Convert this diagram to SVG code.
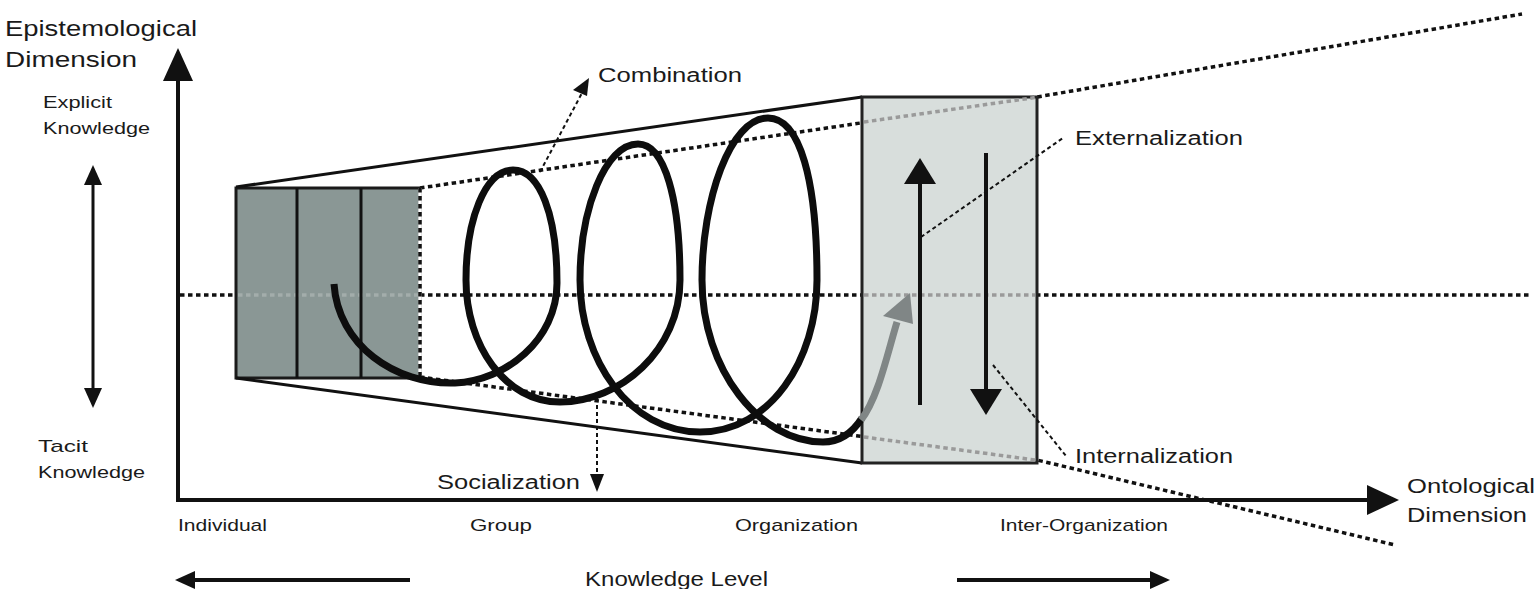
<svg xmlns="http://www.w3.org/2000/svg" width="1536" height="589" viewBox="0 0 1536 589">
<style>
text{font-family:"Liberation Sans",Arial,sans-serif;fill:#1a1a1a}
.lg{font-size:22px}
.md{font-size:20px}
.sm{font-size:17px}
.dot{fill:none;stroke:#111;stroke-width:3.5;stroke-dasharray:4.5 3.5}
.dotg{fill:none;stroke:#9a9a9a;stroke-width:3.5;stroke-dasharray:4.5 3.5}
.dotr{fill:none;stroke:#a3adab;stroke-width:3.5;stroke-dasharray:4.5 3.5}
.lead{fill:none;stroke:#111;stroke-width:2;stroke-dasharray:4 3}
.ax{fill:none;stroke:#111;stroke-width:4}
.cone{fill:none;stroke:#111;stroke-width:3}
.head{fill:#111}
.spiral{fill:none;stroke:#0d0d0d;stroke-width:7;stroke-linecap:butt}
</style>

<g id="guides">
<line class="dot" x1="180" y1="295" x2="1530" y2="295"/>
<polyline class="dot" points="420,188 1037,97 1522,14"/>
<polyline class="dot" points="420,377 1037,460 1395,545"/>
</g>

<g id="individual-block">
<rect x="236" y="188" width="184" height="190" fill="#8a9795" stroke="#1a1a1a" stroke-width="3"/>
<line x1="420" y1="188" x2="420" y2="378" stroke="#fff" stroke-width="3.5"/>
<line class="dot" x1="420" y1="188" x2="420" y2="378"/>
<line class="dotr" x1="238" y1="295" x2="418" y2="295"/>
<line x1="297" y1="188" x2="297" y2="378" stroke="#111" stroke-width="3"/>
<line x1="361" y1="188" x2="361" y2="378" stroke="#111" stroke-width="3"/>
</g>

<g id="cone">
<line class="cone" x1="236" y1="187" x2="862" y2="97"/>
<line class="cone" x1="236" y1="378" x2="862" y2="463"/>
</g>

<g id="inter-organization-block">
<rect x="862" y="97" width="175" height="366" fill="#d8dedc" stroke="#222" stroke-width="3"/>
<line class="dotg" x1="864" y1="295" x2="1035" y2="295"/>
<line class="dotg" x1="864" y1="122" x2="1035" y2="97.5"/>
<line class="dotg" x1="864" y1="437" x2="1035" y2="460"/>
</g>

<g id="axes">
<line class="ax" x1="178" y1="502" x2="178" y2="78"/>
<polygon class="head" points="178,48 163,81 193,81"/>
<line class="ax" x1="176" y1="500" x2="1370" y2="500"/>
<polygon class="head" points="1399,500 1367,485 1367,515"/>
<line x1="93" y1="180" x2="93" y2="393" stroke="#111" stroke-width="3"/>
<polygon class="head" points="93,165 84,185 102,185"/>
<polygon class="head" points="93,408 84,388 102,388"/>
<line x1="410" y1="580" x2="192" y2="580" stroke="#111" stroke-width="4"/>
<polygon class="head" points="175,580 195,571 195,589"/>
<line x1="957" y1="580" x2="1152" y2="580" stroke="#111" stroke-width="4"/>
<polygon class="head" points="1170,580 1150,571 1150,589"/>
</g>

<g id="conversion-arrows">
<line x1="920" y1="405" x2="920" y2="180" stroke="#111" stroke-width="4"/>
<polygon class="head" points="920,158 904,184 936,184"/>
<line x1="986" y1="153" x2="986" y2="393" stroke="#111" stroke-width="4"/>
<polygon class="head" points="986,415 970,389 1002,389"/>
</g>

<g id="spiral">
<path class="spiral" d="M334,284 C338,345 395,385 455,383 C505,381 557,340 557,283 C557,215 540,170 513,170 C485,170 466,220 466,280 C466,345 505,402 560,402 C620,402 680,350 680,280 C680,200 665,144 638,144 C605,144 580,210 580,280 C580,360 630,432 700,432 C770,432 817,360 817,280 C817,180 800,118 768,118 C730,118 702,200 702,280 C702,370 760,442 823,442 C840,442 853,432 862,418"/>
<path d="M861,420 C878,398 887,355 897,322" fill="none" stroke="#808686" stroke-width="7"/>
<polygon points="910,293 883,316 913,324" fill="#808686"/>
</g>

<g id="connectors">
<line class="lead" x1="540" y1="172" x2="582" y2="93"/>
<polygon class="head" points="589,78 573,90 587,96"/>
<line class="lead" x1="597" y1="398" x2="597" y2="475"/>
<polygon class="head" points="597,492 590,474 604,474"/>
<line class="lead" x1="921" y1="237" x2="1063" y2="138"/>
<line class="lead" x1="993" y1="365" x2="1066" y2="456"/>
</g>

<g id="labels">
<text class="lg" x="5" y="36" textLength="192" lengthAdjust="spacingAndGlyphs">Epistemological</text>
<text class="lg" x="5" y="67" textLength="132" lengthAdjust="spacingAndGlyphs">Dimension</text>
<text class="sm" x="43" y="108" textLength="69" lengthAdjust="spacingAndGlyphs">Explicit</text>
<text class="sm" x="43" y="134" textLength="107" lengthAdjust="spacingAndGlyphs">Knowledge</text>
<text class="sm" x="38" y="452" textLength="50" lengthAdjust="spacingAndGlyphs">Tacit</text>
<text class="sm" x="38" y="478" textLength="107" lengthAdjust="spacingAndGlyphs">Knowledge</text>
<text class="sm" x="178" y="531" textLength="89" lengthAdjust="spacingAndGlyphs">Individual</text>
<text class="sm" x="470" y="531" textLength="62" lengthAdjust="spacingAndGlyphs">Group</text>
<text class="sm" x="735" y="531" textLength="123" lengthAdjust="spacingAndGlyphs">Organization</text>
<text class="sm" x="1000" y="531" textLength="168" lengthAdjust="spacingAndGlyphs">Inter-Organization</text>
<text class="md" x="585" y="586" textLength="183" lengthAdjust="spacingAndGlyphs">Knowledge Level</text>
<text class="md" x="437" y="489" textLength="143" lengthAdjust="spacingAndGlyphs">Socialization</text>
<text class="md" x="598" y="82" textLength="144" lengthAdjust="spacingAndGlyphs">Combination</text>
<text class="md" x="1075" y="145" textLength="168" lengthAdjust="spacingAndGlyphs">Externalization</text>
<text class="md" x="1075" y="463" textLength="158" lengthAdjust="spacingAndGlyphs">Internalization</text>
<text class="md" x="1407" y="493" textLength="128" lengthAdjust="spacingAndGlyphs">Ontological</text>
<text class="md" x="1407" y="522" textLength="120" lengthAdjust="spacingAndGlyphs">Dimension</text>
</g>
</svg>
